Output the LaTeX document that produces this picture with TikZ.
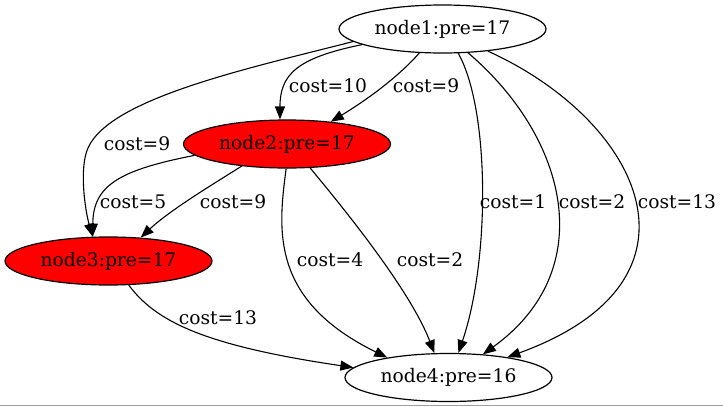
\documentclass[tikz,border=0pt]{standalone}
\usepackage{fontspec}
\setmainfont{DejaVu Serif}
\usetikzlibrary{shapes.geometric,arrows.meta}
\begin{document}
\begin{tikzpicture}[x=1pt,y=-1pt,
  every node/.style={font=\fontsize{18.67}{22}\selectfont},
  state/.style={ellipse,draw=black,line width=1.2pt,minimum width=207pt,minimum height=48pt,inner sep=0pt},
  visited/.style={state,fill=red},
  edge/.style={draw=black,line width=1.1pt,-{Triangle[length=13pt,width=10pt]}},
  cost/.style={inner sep=0pt}]
  % canvas and bottom rule
  \fill[white] (0,0) rectangle (723,407);
  \useasboundingbox (0,0) rectangle (723,407);
  \coordinate (ruleL) at (0,405.5);
  \coordinate (ruleR) at (723,405.5);
  \draw[gray!75,line width=1.5pt] (ruleL) -- (ruleR);

  % nodes
  \node[state]   (n1) at (442.5,29)  {node1:pre=17};
  \node[visited] (n2) at (287,144)   {node2:pre=17};
  \node[visited] (n3) at (108.5,261) {node3:pre=17};
  \node[state]   (n4) at (448.5,377.5) {node4:pre=16};

  % edges out of node1
  \draw[edge] (n1.188) .. controls (250,68) and (110,98) .. (88,148)
                       .. controls (79,168) and (85,210) .. (n3.123);
  \draw[edge] (n1.191) .. controls (296,58) and (280,75) .. (n2.106);
  \draw[edge] (n1.226) .. controls (400,75) and (370,98) .. (n2.27);
  \draw[edge] (n1.303) .. controls (490,110) and (490,260) .. (n4.68);
  \draw[edge] (n1.317) .. controls (568,138) and (600,270) .. (n4.34);
  \draw[edge] (n1.334) .. controls (640,120) and (720,280) .. (n4.19);

  % edges out of node2
  \draw[edge] (n2.187) .. controls (120,170) and (93,185) .. (n3.123);
  \draw[edge] (n2.206) .. controls (215,183) and (170,210) .. (n3.36);
  \draw[edge] (n2.268) .. controls (278,230) and (270,300) .. (n4.162);
  \draw[edge] (n2.314) .. controls (345,210) and (410,290) .. (n4.120);

  % edge out of node3
  \draw[edge] (n3.310) .. controls (155,320) and (200,345) .. (n4.174);

  % edge labels
  \node[cost] (c12a) at (328,86)  {cost=10};
  \node[cost] (c12b) at (426,86)  {cost=9};
  \node[cost] (c13)  at (137,144) {cost=9};
  \node[cost] (c23a) at (133,202) {cost=5};
  \node[cost] (c23b) at (233,202) {cost=9};
  \node[cost] (c24a) at (330,260) {cost=4};
  \node[cost] (c24b) at (430,260) {cost=2};
  \node[cost] (c14a) at (513,202) {cost=1};
  \node[cost] (c14b) at (592,202) {cost=2};
  \node[cost] (c14c) at (677,202) {cost=13};
  \node[cost] (c34)  at (218,318) {cost=13};
\end{tikzpicture}
\end{document}
